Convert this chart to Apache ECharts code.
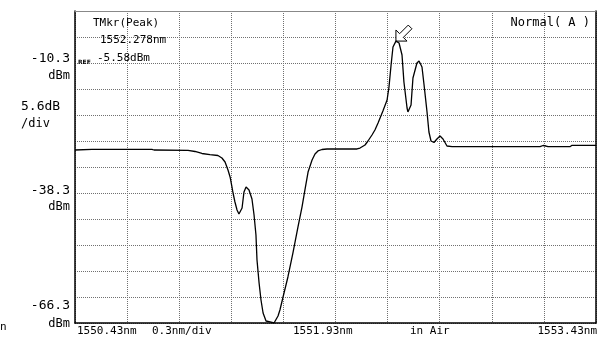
<!DOCTYPE html>
<html><head><meta charset="utf-8">
<script src="https://cdn.jsdelivr.net/npm/echarts@6/dist/echarts.min.js"></script>
<style>html,body{margin:0;padding:0;background:#fff}#c{width:606px;height:342px}</style>
</head><body><div id="c"></div>
<script>
// ---- data ----
const wavelengthNm = [
  1550.430,1550.528,1550.655,1550.660,1550.672,1550.873,1550.885,1551.081,1551.121,1551.161,
  1551.207,1551.253,1551.276,1551.294,1551.311,1551.323,1551.334,1551.340,1551.351,1551.363,
  1551.374,1551.392,1551.403,1551.415,1551.432,1551.449,1551.461,1551.472,1551.478,1551.490,
  1551.501,1551.513,1551.530,1551.541,1551.553,1551.564,1551.576,1551.587,1551.599,1551.610,
  1551.628,1551.656,1551.685,1551.714,1551.737,1551.754,1551.772,1551.795,1551.812,1551.829,
  1551.852,1551.881,1552.054,1552.071,1552.100,1552.117,1552.140,1552.157,1552.175,1552.203,
  1552.227,1552.238,1552.250,1552.261,1552.278,1552.296,1552.313,1552.324,1552.342,1552.347,
  1552.365,1552.376,1552.399,1552.411,1552.428,1552.440,1552.457,1552.468,1552.480,1552.497,
  1552.514,1552.532,1552.549,1552.572,1552.601,1553.108,1553.125,1553.142,1553.154,1553.280,
  1553.292,1553.430
];
const powerDbm = [
  -29.04,-28.89,-28.89,-29.10,-28.89,-28.89,-29.04,-29.10,-29.36,-29.79,
  -30.05,-30.22,-30.76,-31.62,-33.35,-34.85,-37.01,-38.30,-40.24,-41.96,
  -42.82,-41.53,-38.08,-37.01,-37.65,-39.59,-43.04,-47.35,-52.73,-57.68,
  -61.35,-64.15,-65.87,-66.30,-66.08,-65.87,-66.30,-66.08,-64.79,-63.50,
  -60.70,-56.39,-51.22,-45.62,-41.32,-37.65,-33.78,-31.19,-29.90,-29.25,
  -28.93,-28.82,-28.82,-28.61,-27.96,-27.10,-25.81,-24.73,-23.22,-20.64,
  -18.27,-15.47,-10.73,-6.85,-5.58,-5.99,-8.58,-14.39,-19.99,-20.85,
  -19.35,-13.53,-10.30,-9.87,-11.16,-15.04,-20.85,-25.16,-27.10,-27.42,
  -26.67,-26.02,-26.67,-28.18,-28.33,-28.33,-28.07,-28.18,-28.33,-28.33,
  -28.03,-28.03
];
const startNm = 1550.43, nmPerDiv = 0.3, xDivs = 10;
const refDbm = -10.3, dbPerDiv = 5.6, yDivs = 12, refDivFromTop = 2;
const yTickValues = [-10.3, -38.3, -66.3];
const yTickLabels = ['-10.3', '-38.3', '-66.3'];
const scaleLabel = ['5.6dB', '/div'];
const bottomLabels = ['1550.43nm', '0.3nm/div', '1551.93nm', 'in Air', '1553.43nm'];
const markerLines = ['TMkr(Peak)', '1552.278nm', '-5.58dBm'];
const modeLabel = 'Normal( A )';
const peakPoint = [1552.278, -5.58];

const yMax = refDbm + refDivFromTop * dbPerDiv;
const yMin = yMax - yDivs * dbPerDiv;
const xMax = startNm + xDivs * nmPerDiv;

const chart = echarts.init(document.getElementById('c'), null, {renderer: 'canvas'});
const FONT = '"DejaVu Sans Mono", "Liberation Mono", monospace';
const grid = {left: 75, right: 10, top: 11, bottom: 19};
const hidden = {show: false};
const gridLine = {show: true, lineStyle: {color: '#707070', width: 1, type: [1, 1]}};
chart.setOption({
  animation: false,
  backgroundColor: '#fff',
  grid: grid,
  xAxis: [
    {type: 'value', min: startNm, max: xMax, position: 'bottom',
     axisLine: {show: true, onZero: false, lineStyle: {color: '#000', width: 1.5}},
     axisTick: hidden, axisLabel: hidden, splitLine: hidden},
    {type: 'value', min: 0, max: xDivs, interval: 1, position: 'top',
     axisLine: {show: true, onZero: false, lineStyle: {color: '#888', width: 1}},
     axisTick: hidden, axisLabel: hidden, splitLine: gridLine}
  ],
  yAxis: [
    {type: 'value', min: yMin, max: yMax, position: 'left',
     axisLine: {show: true, onZero: false, lineStyle: {color: '#000', width: 1.5}},
     axisTick: hidden, axisLabel: hidden, splitLine: hidden},
    {type: 'value', min: 0, max: yDivs, interval: 1, position: 'right',
     axisLine: {show: true, onZero: false, lineStyle: {color: '#000', width: 1.5}},
     axisTick: hidden, axisLabel: hidden, splitLine: gridLine}
  ],
  series: [{
    type: 'line', xAxisIndex: 0, yAxisIndex: 0,
    data: wavelengthNm.map((w, i) => [w, powerDbm[i]]),
    showSymbol: false, symbol: 'none', silent: true, z: 5,
    lineStyle: {color: '#000', width: 1.3},
    markPoint: {
      silent: true,
      symbol: 'path://M0,14 L0,5 L3,8 L10,1 L13,4 L6,11 L9,14 Z',
      symbolSize: [16, 16], symbolOffset: [8, -8], symbolKeepAspect: true,
      itemStyle: {color: '#fff', borderColor: '#000', borderWidth: 1},
      label: {show: false},
      data: [{coord: peakPoint}]
    }
  }]
});

function txt(x, y, s, align, size) {
  return {type: 'text', x: x, y: y, silent: true, z: 10,
    style: {text: s, fill: '#000', font: (size || 11) + 'px ' + FONT,
            textAlign: align || 'left', textVerticalAlign: 'middle'}};
}
const g = [];
const yOff = [[-4, 13], [-2, 14], [-17, 1]];
yTickValues.forEach((v, i) => {
  const py = chart.convertToPixel({yAxisIndex: 0}, v);
  g.push(txt(70, py + yOff[i][0], yTickLabels[i], 'right', 13));
  g.push(txt(70, py + yOff[i][1], 'dBm', 'right', 12));
});
g.push(txt(21, 107, scaleLabel[0], 'left', 13));
g.push(txt(21, 124, scaleLabel[1], 'left', 12));
const refPy = chart.convertToPixel({yAxisIndex: 0}, refDbm);
g.push({type: 'text', x: 78, y: refPy - 1, silent: true, z: 10,
  style: {text: 'REF', fill: '#000', font: 'bold 6px "DejaVu Sans", sans-serif', textVerticalAlign: 'middle'}});
g.push(txt(93, 23, markerLines[0], 'left'));
g.push(txt(100, 40, markerLines[1], 'left'));
g.push(txt(97, 58, markerLines[2], 'left'));
g.push(txt(590, 23, modeLabel, 'right', 12));
const by = 331;
g.push(txt(77, by, bottomLabels[0], 'left'));
g.push(txt(152, by, bottomLabels[1], 'left'));
g.push(txt(293, by, bottomLabels[2], 'left'));
g.push(txt(410, by, bottomLabels[3], 'left'));
g.push(txt(597, by, bottomLabels[4], 'right'));
g.push(txt(0, 327, 'n', 'left'));
chart.setOption({graphic: g});
</script></body></html>
